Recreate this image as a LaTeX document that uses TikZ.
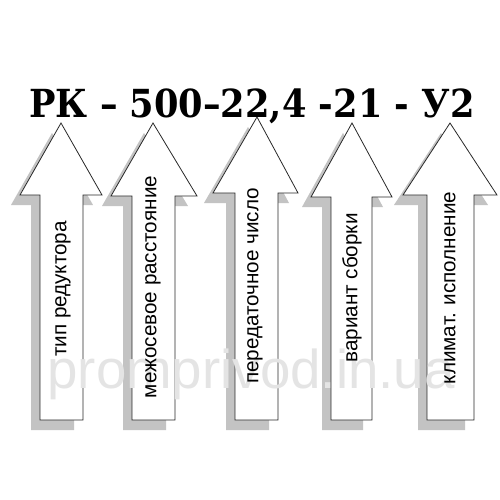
\documentclass[tikz,border=0pt]{standalone}
\usepackage{fontspec}
\setmainfont{Liberation Sans}
\newfontfamily\titlefont{DejaVu Serif}
\begin{document}
\begin{tikzpicture}[x=0.75pt,y=0.75pt,yscale=-1,xscale=1]
\useasboundingbox (0,0) rectangle (500,500);
\fill [white] (0,0) rectangle (500,500);

%Shape: Arrow shadows
\fill [fill={rgb, 255:red, 195; green, 195; blue, 195 }, shift={(-9,10)}] (40,420) -- (40,195) -- (20,195) -- (61,123) -- (102,195) -- (83,195) -- (83,420) -- cycle ;
\fill [fill={rgb, 255:red, 195; green, 195; blue, 195 }, shift={(-9,10)}] (132,420) -- (132,196) -- (111,196) -- (153,123) -- (197,196) -- (175,196) -- (175,420) -- cycle ;
\fill [fill={rgb, 255:red, 195; green, 195; blue, 195 }, shift={(-9,10)}] (235,420) -- (235,193) -- (213,193) -- (257,117) -- (298,193) -- (278,193) -- (278,420) -- cycle ;
\fill [fill={rgb, 255:red, 195; green, 195; blue, 195 }, shift={(-9,10)}] (331,420) -- (331,197) -- (311,197) -- (352,123) -- (392,197) -- (372,197) -- (372,420) -- cycle ;
\fill [fill={rgb, 255:red, 195; green, 195; blue, 195 }, shift={(-9,10)}] (427,420) -- (427,195) -- (403,195) -- (450,123) -- (497,195) -- (474,195) -- (474,420) -- cycle ;

%Shape: Up Arrow [tip type]
\draw [color={rgb, 255:red, 40; green, 40; blue, 40 }, fill=white, line width=0.6] (40,420) -- (40,195) -- (20,195) -- (61,123) -- (102,195) -- (83,195) -- (83,420) -- cycle ;
%Shape: Up Arrow [tip distance]
\draw [color={rgb, 255:red, 40; green, 40; blue, 40 }, fill=white, line width=0.6] (132,420) -- (132,196) -- (111,196) -- (153,123) -- (197,196) -- (175,196) -- (175,420) -- cycle ;
%Shape: Up Arrow [tip ratio]
\draw [color={rgb, 255:red, 40; green, 40; blue, 40 }, fill=white, line width=0.6] (235,420) -- (235,193) -- (213,193) -- (257,117) -- (298,193) -- (278,193) -- (278,420) -- cycle ;
%Shape: Up Arrow [tip assembly]
\draw [color={rgb, 255:red, 40; green, 40; blue, 40 }, fill=white, line width=0.6] (331,420) -- (331,197) -- (311,197) -- (352,123) -- (392,197) -- (372,197) -- (372,420) -- cycle ;
%Shape: Up Arrow [tip climate]
\draw [color={rgb, 255:red, 40; green, 40; blue, 40 }, fill=white, line width=0.6] (427,420) -- (427,195) -- (403,195) -- (450,123) -- (497,195) -- (474,195) -- (474,420) -- cycle ;

% Text Node: watermark
\node [color={rgb, 255:red, 228; green, 228; blue, 228 }, font=\fontsize{41}{41}\selectfont, anchor=base] (wmark) at (251,388) {promprivod.in.ua};

% Text Node: title
\node [font=\titlefont\bfseries\fontsize{29}{34}\selectfont, anchor=base, xscale=0.91] (title) at (252,117) {РК – 500–22,4 -21 - У2};

% Text Node: labels
\node [rotate=90, font=\fontsize{15.5}{18}\selectfont] (lblType) at (63,289) {тип редуктора};
\node [rotate=90, font=\fontsize{15.5}{18}\selectfont] (lblDist) at (153,287) {межосевое расстояние};
\node [rotate=90, font=\fontsize{15.5}{18}\selectfont] (lblRatio) at (255,286) {передаточное число};
\node [rotate=90, font=\fontsize{15.5}{18}\selectfont] (lblAsm) at (352,288) {вариант сборки};
\node [rotate=90, font=\fontsize{15.5}{18}\selectfont] (lblClim) at (450,288) {климат. исполнение};

\end{tikzpicture}
\end{document}
